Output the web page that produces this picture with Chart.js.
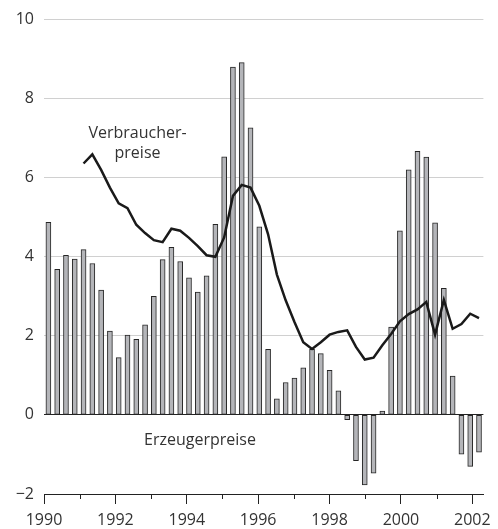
<!DOCTYPE html>
<html>
<head>
<meta charset="utf-8">
<script src="https://cdn.jsdelivr.net/npm/chart.js@4/dist/chart.umd.min.js"></script>
<style>
  body { margin: 0; background: #fff; }
  #wrap { width: 498px; height: 529px; position: relative; }
</style>
</head>
<body>
<div id="wrap"><canvas id="chartPreise"></canvas></div>
<script>
const quarters = [
  "1990 Q1", "1990 Q2", "1990 Q3", "1990 Q4",
  "1991 Q1", "1991 Q2", "1991 Q3", "1991 Q4",
  "1992 Q1", "1992 Q2", "1992 Q3", "1992 Q4",
  "1993 Q1", "1993 Q2", "1993 Q3", "1993 Q4",
  "1994 Q1", "1994 Q2", "1994 Q3", "1994 Q4",
  "1995 Q1", "1995 Q2", "1995 Q3", "1995 Q4",
  "1996 Q1", "1996 Q2", "1996 Q3", "1996 Q4",
  "1997 Q1", "1997 Q2", "1997 Q3", "1997 Q4",
  "1998 Q1", "1998 Q2", "1998 Q3", "1998 Q4",
  "1999 Q1", "1999 Q2", "1999 Q3", "1999 Q4",
  "2000 Q1", "2000 Q2", "2000 Q3", "2000 Q4",
  "2001 Q1", "2001 Q2", "2001 Q3", "2001 Q4",
  "2002 Q1", "2002 Q2",
];

// Erzeugerpreise (bars)
const erzeugerpreise = [
  4.87, 3.68, 4.04, 3.94, 4.18, 3.83, 3.16, 2.12, 1.45, 2.02,
  1.91, 2.28, 3.0, 3.93, 4.24, 3.88, 3.47, 3.11, 3.52, 4.82,
  6.53, 8.8, 8.91, 7.26, 4.76, 1.66, 0.41, 0.82, 0.93, 1.19,
  1.66, 1.55, 1.13, 0.61, -0.12, -1.16, -1.77, -1.47, 0.1, 2.22,
  4.66, 6.2, 6.67, 6.52, 4.86, 3.2, 0.98, -0.99, -1.3, -0.94,
];

// Verbraucherpreise (line), starts 1991 Q1
const verbraucherpreise = [
  null, null, null, null,
  6.36, 6.59, 6.2, 5.75, 5.35, 5.23, 4.81, 4.6, 4.42, 4.37,
  4.71, 4.66, 4.48, 4.27, 4.04, 4.0, 4.49, 5.54, 5.82, 5.75,
  5.29, 4.57, 3.55, 2.9, 2.35, 1.84, 1.67, 1.84, 2.03, 2.1,
  2.14, 1.72, 1.4, 1.45, 1.76, 2.05, 2.37, 2.55, 2.67, 2.86,
  2.03, 2.91, 2.18, 2.3, 2.56, 2.45,
];

const tickYears = [1990, 1991, 1992, 1993, 1994, 1995, 1996, 1997, 1998, 1999, 2000, 2001, 2002];
const yTicks = [-2, 0, 2, 4, 6, 8, 10];

Chart.defaults.font.family = "'Open Sans', sans-serif";
Chart.defaults.font.size = 16;
Chart.defaults.color = "#333";

// short ticks for the odd years
const minorTicks = {
  id: "minorTicks",
  afterDraw(chart) {
    const scale = chart.scales.xYear;
    const ctx = chart.ctx;
    ctx.save();
    ctx.strokeStyle = "#222";
    ctx.lineWidth = 1;
    tickYears.forEach((year) => {
      if (year % 2 === 0) return;
      const x = Math.round(scale.getPixelForValue(year)) + 0.5;
      ctx.beginPath();
      ctx.moveTo(x, scale.top);
      ctx.lineTo(x, scale.top + 5);
      ctx.stroke();
    });
    ctx.restore();
  },
};

// series labels inside the plot
const seriesLabels = {
  id: "seriesLabels",
  afterDatasetsDraw(chart) {
    const xs = chart.scales.xYear;
    const ys = chart.scales.y;
    const ctx = chart.ctx;
    ctx.save();
    ctx.font = "16px 'Open Sans', sans-serif";
    ctx.fillStyle = "#333";
    ctx.textAlign = "center";
    ctx.textBaseline = "middle";
    ctx.fillText("Verbraucher-", xs.getPixelForValue(1992.62), ys.getPixelForValue(7.13));
    ctx.fillText("preise", xs.getPixelForValue(1992.62), ys.getPixelForValue(6.62));
    ctx.fillText("Erzeugerpreise", xs.getPixelForValue(1994.37), ys.getPixelForValue(-0.64));
    ctx.restore();
  },
};

new Chart(document.getElementById("chartPreise"), {
  type: "bar",
  data: {
    labels: quarters,
    datasets: [
      {
        type: "line",
        label: "Verbraucherpreise",
        data: verbraucherpreise,
        borderColor: "#1a1a1a",
        borderWidth: 2.5,
        pointRadius: 0,
        tension: 0,
        spanGaps: false,
        order: 0,
      },
      {
        label: "Erzeugerpreise",
        data: erzeugerpreise,
        backgroundColor: "#b4b5b9",
        borderColor: "#262626",
        borderWidth: 1,
        borderSkipped: false,
        barThickness: 5,
        order: 1,
      },
    ],
  },
  options: {
    responsive: true,
    maintainAspectRatio: false,
    animation: false,
    layout: {
      padding: { top: 18, right: 10, bottom: 0, left: 0 },
    },
    scales: {
      x: {
        type: "category",
        display: false,
        offset: true,
      },
      xYear: {
        type: "linear",
        position: "bottom",
        min: 1990,
        max: 2002.31,
        offset: false,
        afterBuildTicks: (scale) => {
          scale.ticks = tickYears.map((v) => ({ value: v }));
        },
        afterFit: (scale) => {
          scale.height = 35;
        },
        grid: {
          offset: false,
          drawOnChartArea: false,
          tickLength: 10,
          tickColor: (ctx) => (ctx.tick && ctx.tick.value % 2 === 0 ? "#222" : "rgba(0,0,0,0)"),
        },
        border: {
          display: true,
          color: "#222",
          width: 1,
        },
        ticks: {
          autoSkip: false,
          maxRotation: 0,
          padding: 7,
          callback: (v) => (v % 2 === 0 ? String(v) : ""),
        },
      },
      y: {
        min: -2,
        max: 10,
        afterBuildTicks: (scale) => {
          scale.ticks = yTicks.map((v) => ({ value: v }));
        },
        afterFit: (scale) => {
          scale.width = 44;
        },
        grid: {
          drawTicks: false,
          color: (ctx) => {
            if (ctx.tick.value === 0) return "#222";
            if (ctx.tick.value === -2) return "rgba(0,0,0,0)";
            return "#d0d0d0";
          },
        },
        border: {
          display: false,
        },
        ticks: {
          padding: 10,
          callback: (v) => (v < 0 ? "\u2212" + Math.abs(v) : String(v)),
        },
      },
    },
    plugins: {
      legend: { display: false },
      tooltip: { enabled: false },
    },
  },
  plugins: [minorTicks, seriesLabels],
});
</script>
</body>
</html>
